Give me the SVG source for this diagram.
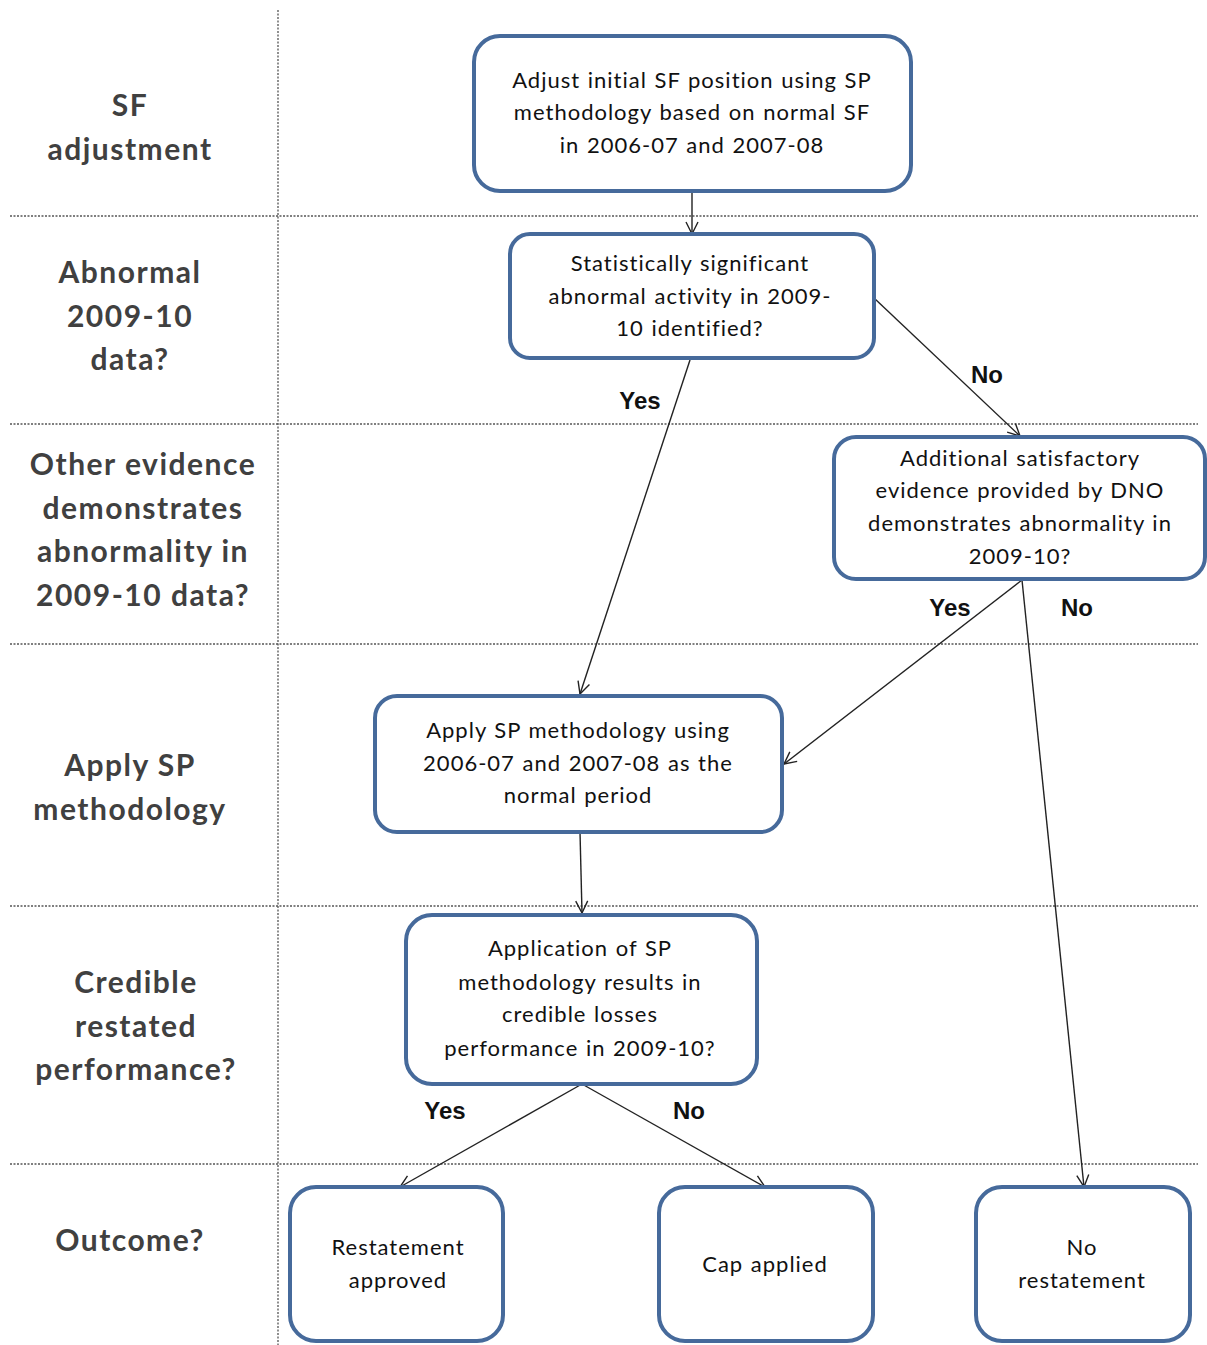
<svg xmlns="http://www.w3.org/2000/svg" width="1207" height="1345" viewBox="0 0 1207 1345">
<defs>
<style>
.grid{stroke:#555;stroke-width:1.3;stroke-dasharray:2 1.5;fill:none}
.box{fill:#fff;stroke:#466a9b;stroke-width:4}
.bt{font-family:Lato,"Liberation Sans",sans-serif;font-size:22px;letter-spacing:1px;word-spacing:1px;fill:#111;text-anchor:middle}
.lt{font-family:Lato,"Liberation Sans",sans-serif;font-weight:bold;font-size:30px;letter-spacing:1.5px;fill:#404040;text-anchor:middle}
.yn{font-family:"Liberation Sans",Arial,sans-serif;font-weight:bold;font-size:24px;fill:#111;text-anchor:middle}
.c{stroke:#222;stroke-width:1.4;fill:none;marker-end:url(#ah)}
</style>
<marker id="ah" viewBox="0 0 16 16" refX="14" refY="8" markerWidth="16" markerHeight="16" markerUnits="userSpaceOnUse" orient="auto">
<path d="M2,2 L14,8 L2,14" fill="none" stroke="#222" stroke-width="1.4"/>
</marker>
</defs>
<rect width="1207" height="1345" fill="#fff"/>
<g id="grid">
<line class="grid" x1="278" y1="10" x2="278" y2="1345"/>
<line class="grid" x1="10" y1="216" x2="1198" y2="216"/>
<line class="grid" x1="10" y1="424" x2="1198" y2="424"/>
<line class="grid" x1="10" y1="644" x2="1198" y2="644"/>
<line class="grid" x1="10" y1="906" x2="1198" y2="906"/>
<line class="grid" x1="10" y1="1164" x2="1198" y2="1164"/>
</g>
<g id="lane-labels">
<text class="lt" x="130" y="116">SF</text>
<text class="lt" x="130" y="160">adjustment</text>
<text class="lt" x="130" y="283">Abnormal</text>
<text class="lt" x="130" y="327">2009-10</text>
<text class="lt" x="130" y="370">data?</text>
<text class="lt" x="143" y="475">Other evidence</text>
<text class="lt" x="143" y="519">demonstrates</text>
<text class="lt" x="143" y="562">abnormality in</text>
<text class="lt" x="143" y="606">2009-10 data?</text>
<text class="lt" x="130" y="776">Apply SP</text>
<text class="lt" x="130" y="820">methodology</text>
<text class="lt" x="136" y="993">Credible</text>
<text class="lt" x="136" y="1037">restated</text>
<text class="lt" x="136" y="1080">performance?</text>
<text class="lt" x="130" y="1251">Outcome?</text>
</g>
<g id="connectors">
<line class="c" x1="692" y1="191" x2="692" y2="234"/>
<line class="c" x1="874" y1="298" x2="1020" y2="436"/>
<line class="c" x1="690" y1="360" x2="580" y2="694"/>
<line class="c" x1="1022" y1="580" x2="784" y2="764"/>
<line class="c" x1="1022" y1="580" x2="1084" y2="1187"/>
<line class="c" x1="580" y1="832" x2="582" y2="913"/>
<line class="c" x1="582" y1="1084" x2="400" y2="1187"/>
<line class="c" x1="582" y1="1084" x2="765" y2="1187"/>
<text class="yn" x="987" y="383">No</text>
<text class="yn" x="640" y="409">Yes</text>
<text class="yn" x="950" y="616">Yes</text>
<text class="yn" x="1077" y="616">No</text>
<text class="yn" x="445" y="1119">Yes</text>
<text class="yn" x="689" y="1119">No</text>
</g>
<g id="n1">
<rect class="box" x="474" y="36" width="437" height="155" rx="26"/>
<text class="bt" x="692" y="88">Adjust initial SF position using SP</text>
<text class="bt" x="692" y="120">methodology based on normal SF</text>
<text class="bt" x="692" y="153">in 2006-07 and 2007-08</text>
</g>
<g id="n2">
<rect class="box" x="510" y="234" width="364" height="124" rx="20"/>
<text class="bt" x="690" y="271">Statistically significant</text>
<text class="bt" x="690" y="304">abnormal activity in 2009-</text>
<text class="bt" x="690" y="336">10 identified?</text>
</g>
<g id="n3">
<rect class="box" x="834" y="437" width="371" height="142" rx="22"/>
<text class="bt" x="1020" y="466">Additional satisfactory</text>
<text class="bt" x="1020" y="498">evidence provided by DNO</text>
<text class="bt" x="1020" y="531">demonstrates abnormality in</text>
<text class="bt" x="1020" y="564">2009-10?</text>
</g>
<g id="n4">
<rect class="box" x="375" y="696" width="407" height="136" rx="22"/>
<text class="bt" x="578" y="738">Apply SP methodology using</text>
<text class="bt" x="578" y="771">2006-07 and 2007-08 as the</text>
<text class="bt" x="578" y="803">normal period</text>
</g>
<g id="n5">
<rect class="box" x="406" y="915" width="351" height="169" rx="26"/>
<text class="bt" x="580" y="956">Application of SP</text>
<text class="bt" x="580" y="990">methodology results in</text>
<text class="bt" x="580" y="1022">credible losses</text>
<text class="bt" x="580" y="1056">performance in 2009-10?</text>
</g>
<g id="n6">
<rect class="box" x="290" y="1187" width="213" height="154" rx="26"/>
<text class="bt" x="398" y="1255">Restatement</text>
<text class="bt" x="398" y="1288">approved</text>
</g>
<g id="n7">
<rect class="box" x="659" y="1187" width="214" height="154" rx="26"/>
<text class="bt" x="765" y="1272">Cap applied</text>
</g>
<g id="n8">
<rect class="box" x="976" y="1187" width="214" height="154" rx="26"/>
<text class="bt" x="1082" y="1255">No</text>
<text class="bt" x="1082" y="1288">restatement</text>
</g>
</svg>
